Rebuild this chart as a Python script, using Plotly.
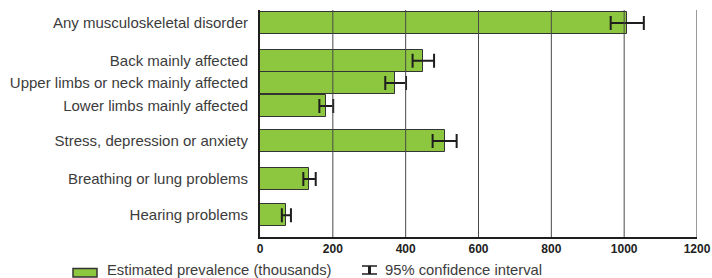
import plotly.graph_objects as go

# ---- data ----
categories = [
    "Any musculoskeletal disorder",
    "Back mainly affected",
    "Upper limbs or neck mainly affected",
    "Lower limbs mainly affected",
    "Stress, depression or anxiety",
    "Breathing or lung problems",
    "Hearing problems",
]
prevalence = [1008, 448, 372, 181, 508, 135, 72]
ci_low = [963, 419, 344, 163, 474, 119, 60]
ci_high = [1054, 478, 401, 201, 540, 153, 85]
x_ticks = [0, 200, 400, 600, 800, 1000, 1200]
legend_labels = ["Estimated prevalence (thousands)", "95% confidence interval"]

# ---- layout helpers (row placement, not data) ----
row_pos = [0, 1.67, 2.65, 3.66, 5.2, 6.87, 8.47]

GREEN = "#8dc63f"
EDGE = "#333333"
TXT = "#3c3c3c"
FONT = "Liberation Sans, Arial, sans-serif"

err_plus = [h - v for h, v in zip(ci_high, prevalence)]
err_minus = [v - l for v, l in zip(prevalence, ci_low)]

fig = go.Figure()
fig.add_trace(go.Bar(
    x=prevalence, y=row_pos, orientation="h", width=0.95,
    marker=dict(color=GREEN, line=dict(color=EDGE, width=1)),
    error_x=dict(type="data", array=err_plus, arrayminus=err_minus,
                 color="#1e1e1e", thickness=2, width=7),
    showlegend=False, hoverinfo="x",
))

shapes = []
for t in x_ticks[1:-1]:
    shapes.append(dict(type="line", xref="x", yref="paper", x0=t, x1=t, y0=0, y1=1,
                       line=dict(color="#4a4a4a", width=1), layer="above"))
shapes.append(dict(type="line", xref="x", yref="paper", x0=x_ticks[-1], x1=x_ticks[-1],
                   y0=0, y1=1, line=dict(color="#9a9a9a", width=2), layer="above"))

# legend glyphs (paper coords)
W, H = 712, 278
L, R, T, B = 260, 15, 10, 41
pw, ph = W - L - R, H - T - B
def px(x):
    return (x - L) / pw
def py(y):
    return (H - B - y) / ph

shapes.append(dict(type="rect", xref="paper", yref="paper",
                   x0=px(73), x1=px(97), y0=py(277), y1=py(268.5),
                   fillcolor=GREEN, line=dict(color=EDGE, width=1.5)))
# error-bar legend glyph
shapes.append(dict(type="line", xref="paper", yref="paper", x0=px(369.5), x1=px(369.5),
                   y0=py(274), y1=py(266), line=dict(color="#1e1e1e", width=3)))
shapes.append(dict(type="line", xref="paper", yref="paper", x0=px(362), x1=px(377),
                   y0=py(266), y1=py(266), line=dict(color="#1e1e1e", width=1.5)))
shapes.append(dict(type="line", xref="paper", yref="paper", x0=px(362), x1=px(377),
                   y0=py(274), y1=py(274), line=dict(color="#1e1e1e", width=1.5)))

annotations = [
    dict(text=legend_labels[0], xref="paper", yref="paper", x=px(105), y=py(270),
         xanchor="left", yanchor="middle", showarrow=False,
         font=dict(size=14.8, color=TXT, family=FONT)),
    dict(text=legend_labels[1], xref="paper", yref="paper", x=px(383), y=py(270),
         xanchor="left", yanchor="middle", showarrow=False,
         font=dict(size=14.8, color=TXT, family=FONT)),
]

fig.update_layout(
    width=W, height=H,
    margin=dict(l=L, r=R, t=T, b=B, pad=0),
    paper_bgcolor="white", plot_bgcolor="white",
    bargap=0,
    shapes=shapes, annotations=annotations,
    font=dict(family=FONT, color=TXT),
    xaxis=dict(
        range=[0, 1200], tickvals=x_ticks, ticktext=[str(t) for t in x_ticks],
        showgrid=False, zeroline=False, automargin=False,
        showline=True, linecolor="#1e1e1e", linewidth=2,
        ticks="", tickfont=dict(size=12, color="#222222", family=FONT, weight="bold"),
        fixedrange=True,
    ),
    yaxis=dict(
        range=[9.43, -0.57], tickvals=row_pos, ticktext=categories,
        showgrid=False, zeroline=False, automargin=False,
        showline=True, linecolor="#1e1e1e", linewidth=2,
        ticks="", ticklabelstandoff=7,
        tickfont=dict(size=15, color=TXT, family=FONT),
        fixedrange=True,
    ),
)

fig.write_html(
    "out.html",
    config={"displayModeBar": False},
    post_script="document.body.style.margin='0';document.body.style.overflow='hidden';",
)
